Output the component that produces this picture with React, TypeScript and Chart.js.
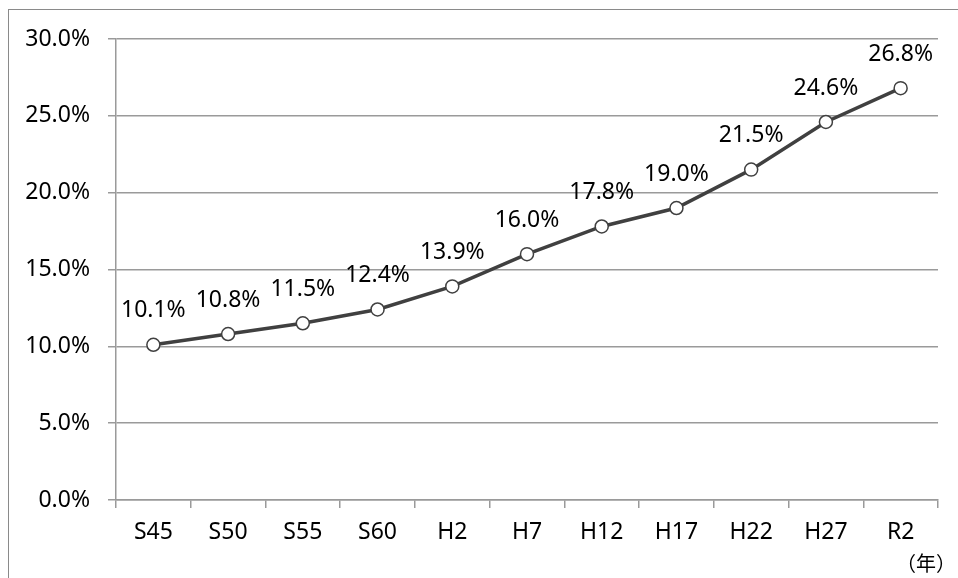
import React, { useEffect, useRef } from "react";
import { Chart, registerables } from "chart.js";

Chart.register(...registerables);

const categories = ["S45", "S50", "S55", "S60", "H2", "H7", "H12", "H17", "H22", "H27", "R2"];
const values = [10.1, 10.8, 11.5, 12.4, 13.9, 16.0, 17.8, 19.0, 21.5, 24.6, 26.8];
const yTicks = [0, 5, 10, 15, 20, 25, 30];
const unitLabel = "（年）";

const FONT = "'Noto Sans', 'Noto Sans CJK JP', sans-serif";

const labelPlugin = {
  id: "pointLabels",
  afterDatasetsDraw(chart: any) {
    const ctx = chart.ctx;
    const meta = chart.getDatasetMeta(0);
    ctx.save();
    ctx.font = `23px ${FONT}`;
    ctx.fillStyle = "#000";
    ctx.textAlign = "center";
    ctx.textBaseline = "middle";
    meta.data.forEach((pt: any, i: number) => {
      ctx.fillText(values[i].toFixed(1) + "%", pt.x, pt.y - 34);
    });
    ctx.font = `20px ${FONT}`;
    ctx.textAlign = "right";
    ctx.fillText(unitLabel, chart.width - 2, 565);
    ctx.restore();
  },
};

export default function App() {
  const ref = useRef<HTMLCanvasElement>(null);
  useEffect(() => {
    const chart = new Chart(ref.current!, {
      type: "line",
      data: {
        labels: categories,
        datasets: [
          {
            data: values,
            borderColor: "#404040",
            borderWidth: 3.5,
            pointRadius: 6.5,
            pointBorderWidth: 1.5,
            pointBackgroundColor: "#ffffff",
            pointBorderColor: "#404040",
            tension: 0,
          },
        ],
      },
      options: {
        responsive: false,
        animation: false,
        layout: { padding: { top: 39, right: 20, left: 0, bottom: 0 } },
        plugins: { legend: { display: false }, tooltip: { enabled: false } },
        scales: {
          x: {
            type: "category",
            offset: true,
            grid: {
              offset: true,
              drawOnChartArea: false,
              drawTicks: true,
              tickLength: 8,
              color: "#9a9a9a",
              lineWidth: 1.5,
            },
            border: { color: "#9a9a9a", width: 1.5 },
            ticks: {
              color: "#000",
              font: { family: FONT, size: 23 },
              padding: 11,
              maxRotation: 0,
              autoSkip: false,
            },
            afterFit: (s: any) => {
              s.height = 78;
            },
          },
          y: {
            min: 0,
            max: 30,
            afterBuildTicks: (s: any) => {
              s.ticks = yTicks.map((v) => ({ value: v }));
            },
            grid: {
              color: "#9a9a9a",
              lineWidth: 1.5,
              tickLength: 8,
            },
            border: { color: "#9a9a9a", width: 1.5 },
            ticks: {
              color: "#000",
              font: { family: FONT, size: 23 },
              padding: 18,
              callback: (v: any) => Number(v).toFixed(1) + "%",
            },
            afterFit: (s: any) => {
              s.width = 116;
            },
          },
        },
      },
      plugins: [labelPlugin],
    });
    return () => chart.destroy();
  }, []);
  return (
    <div style={{ position: "fixed", left: 0, top: 0, width: 958, height: 578, background: "#fff" }}>
      <div
        style={{
          position: "absolute",
          left: 8,
          top: 9,
          width: 980,
          height: 600,
          border: "1.5px solid #8a8a8a",
          boxSizing: "border-box",
        }}
      />
      <canvas ref={ref} width={958} height={578} style={{ position: "absolute", left: 0, top: 0 }} />
    </div>
  );
}
